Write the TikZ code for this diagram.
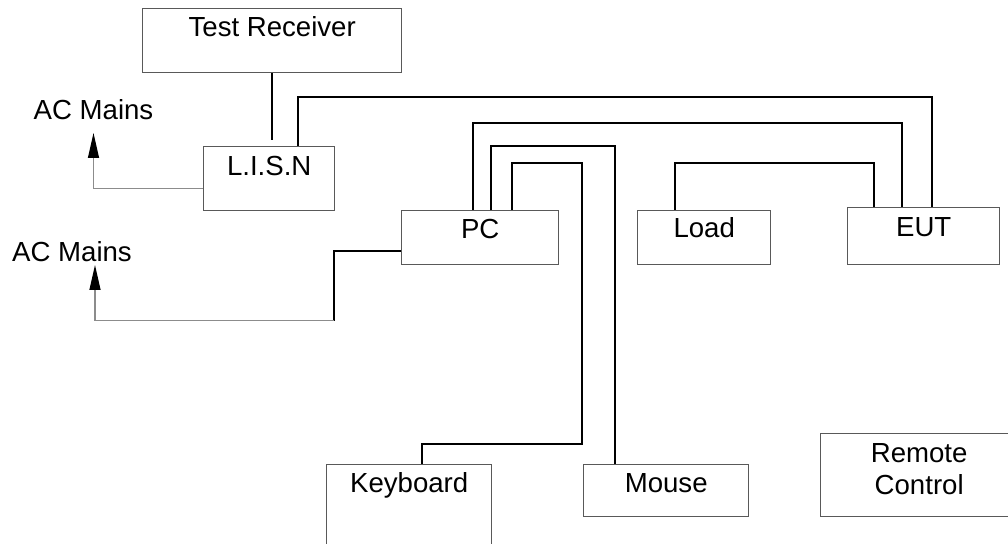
\documentclass[tikz,border=0pt]{standalone}
\usepackage{fontspec}
\setmainfont{Liberation Sans}
\usetikzlibrary{arrows.meta}

\begin{document}
\begin{tikzpicture}[x=0.5pt,y=-0.5pt,font=\fontsize{13.8}{16}\selectfont]
              \tikzstyle{box}=[draw=black!65,line width=0.7pt,anchor=north west,inner sep=0pt]
              \tikzstyle{txt}=[anchor=base,inner sep=0pt,align=center]
              \tikzstyle{wire}=[black,line width=1.1pt]
              \tikzstyle{feed}=[black!45,line width=0.6pt]
              \tikzstyle{up}=[-{Triangle[length=12.5pt,width=5.5pt,color=black]}]

              \useasboundingbox (0,0) rectangle (1008,544);
              \clip (0,0) rectangle (1008,544);

              \node[box,minimum width=129.5pt,minimum height=32pt,label={[txt,yshift=-14.5pt]north:Test Receiver}] (rx) at (142,8) {};
              \node[box,minimum width=65.5pt,minimum height=32pt,label={[txt,yshift=-15pt]north:L.I.S.N}] (lisn) at (203,146) {};
              \node[box,minimum width=78.5pt,minimum height=27pt,label={[txt,yshift=-14.5pt]north:PC}] (pc) at (401,210) {};
              \node[box,minimum width=66.5pt,minimum height=27pt,label={[txt,yshift=-14pt]north:Load}] (load) at (637,210) {};
              \node[box,minimum width=76pt,minimum height=28.5pt,label={[txt,yshift=-15pt]north:EUT}] (eut) at (847,207) {};
              \node[box,minimum width=82.5pt,minimum height=50pt,label={[txt,yshift=-14.5pt]north:Keyboard}] (kbd) at (326,464) {};
              \node[box,minimum width=82.5pt,minimum height=26pt,label={[txt,yshift=-14.5pt]north:Mouse}] (mouse) at (583,464) {};
              \node[box,minimum width=98.5pt,minimum height=41.5pt,label={[txt,yshift=-31pt]north:Remote\\Control}] (remote) at (820,433) {};
              \node[txt] (acA) at (93.5,120) {AC Mains};
              \node[txt] (acB) at (72,262) {AC Mains};

              % cables
              \draw[wire] (rx.south) -- ([yshift=3pt]lisn.north -| rx.south);
              \draw[wire] ([xshift=47.5pt]lisn.north west) -- ++(0,-49) -| ([xshift=42.5pt]eut.north west);
              \draw[wire] ([xshift=36pt]pc.north west) -- ++(0,-87) -| ([xshift=27.5pt]eut.north west);
              \draw[wire] ([xshift=45pt]pc.north west) -- ++(0,-64) -| ([xshift=16pt]mouse.north west);
              \draw[wire] ([xshift=55.5pt]pc.north west) -- ++(0,-47) -- ++(70,0) -- ++(0,281) -| ([xshift=48pt]kbd.north west);
              \draw[wire] ([xshift=19pt]load.north west) -- ++(0,-47) -| ([xshift=13.5pt]eut.north west);

              % mains feeds
              \draw[feed,up] ([yshift=-5pt]lisn.west) -| ([yshift=-6.5pt]acA.base);
              \draw[wire] ([yshift=-6.5pt]pc.west) -- ++(-67,0) -- ++(0,70) coordinate (drop);
              \draw[feed,up] (drop) -| ([xshift=11.5pt,yshift=-1.5pt]acB.base);
\end{tikzpicture}
\end{document}
